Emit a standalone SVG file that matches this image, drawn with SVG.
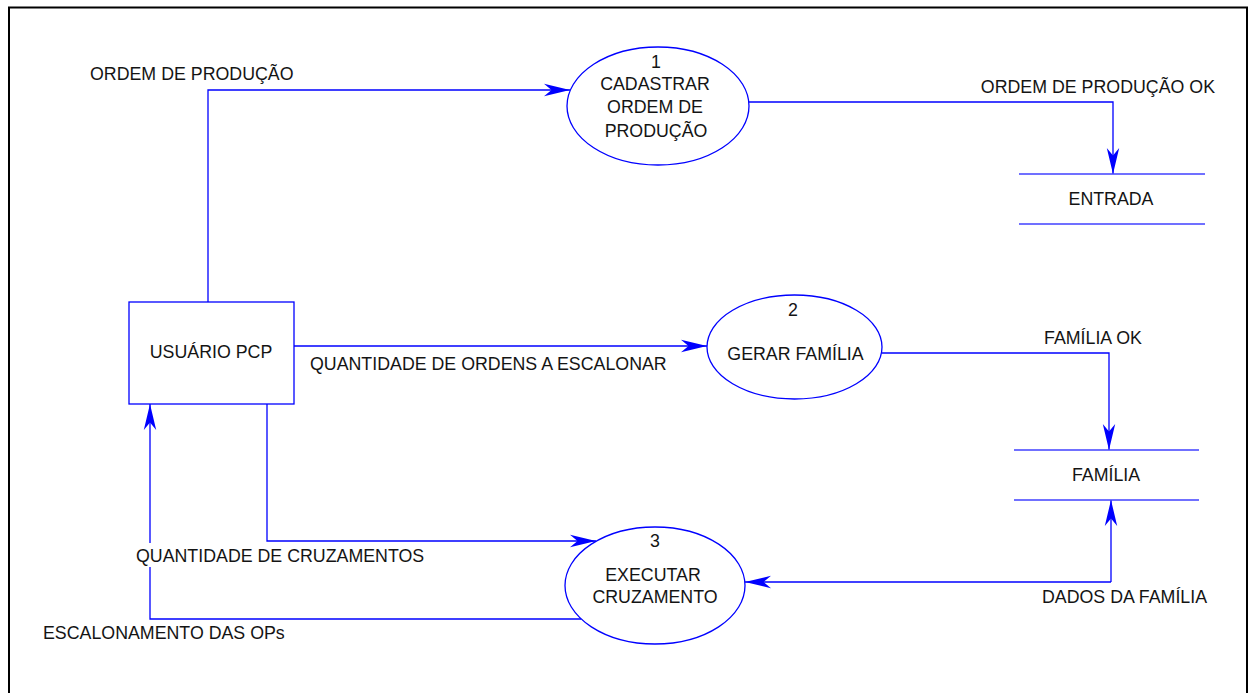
<svg xmlns="http://www.w3.org/2000/svg" width="1249" height="693" viewBox="0 0 1249 693">
  <style>
    text { font-family: "Liberation Sans", Arial, sans-serif; font-size: 17.8px; fill: #141414; }
    .c { text-anchor: middle; }
    .e { text-anchor: end; }
    .shape { fill: #ffffff; stroke: #0000ff; stroke-width: 1.3; }
    .store { stroke: #4040ff; stroke-width: 1.5; }
    .flow { fill: none; stroke: #0000ff; stroke-width: 1.3; marker-end: url(#arrow); }
  </style>
  <defs>
    <marker id="arrow" markerUnits="userSpaceOnUse" markerWidth="27" markerHeight="14" refX="26" refY="7" orient="auto" overflow="visible">
      <path d="M26,7 L0,0.8 L7.5,7 L0,13.2 Z" fill="#0000ff"/>
    </marker>
  </defs>

  <rect x="0" y="0" width="1249" height="693" fill="#ffffff"/>
  <!-- frame -->
  <rect x="9" y="7.5" width="1238" height="700" fill="none" stroke="#000000" stroke-width="2"/>

  <!-- data flows -->
  <g id="connectors">
    <polyline class="flow" points="208,302 208,90 570,90"/>
    <polyline class="flow" points="749,102 1113,102 1113,174"/>
    <polyline class="flow" points="294,346 707,346"/>
    <polyline class="flow" points="882,353 1109,353 1109,450"/>
    <polyline class="flow" points="1111,582 1111,500"/>
    <polyline class="flow" points="1111,582 745,582"/>
    <polyline class="flow" points="267,404 267,541 596,541"/>
    <polyline class="flow" points="581,619 150,619 150,404"/>
  </g>

  <!-- flow labels -->
  <g id="labels">
    <text x="90" y="80">ORDEM DE PRODUÇÃO</text>
    <text class="e" x="1215" y="93">ORDEM DE PRODUÇÃO OK</text>
    <text x="310" y="370">QUANTIDADE DE ORDENS A ESCALONAR</text>
    <text x="1044" y="344">FAMÍLIA OK</text>
    <text x="1042" y="603">DADOS DA FAMÍLIA</text>
    <rect x="134" y="543" width="294" height="24" fill="#ffffff"/>
    <text x="136" y="562">QUANTIDADE DE CRUZAMENTOS</text>
    <text x="43" y="639">ESCALONAMENTO DAS OPs</text>
  </g>

  <!-- external entity -->
  <g id="usuario-pcp">
    <rect class="shape" x="129" y="302" width="165" height="102"/>
    <text class="c" x="211" y="358">USUÁRIO PCP</text>
  </g>

  <!-- processes -->
  <g id="processo-1">
    <ellipse class="shape" cx="658" cy="106" rx="91" ry="59"/>
    <text class="c" x="656" y="68">1</text>
    <text class="c" x="655" y="89.5">CADASTRAR</text>
    <text class="c" x="655" y="113">ORDEM DE</text>
    <text class="c" x="656" y="137">PRODUÇÃO</text>
  </g>

  <g id="processo-2">
    <ellipse class="shape" cx="794.5" cy="347" rx="87.5" ry="52"/>
    <text class="c" x="793" y="316">2</text>
    <text class="c" x="795.5" y="360">GERAR FAMÍLIA</text>
  </g>

  <g id="processo-3">
    <ellipse class="shape" cx="655" cy="585.5" rx="90" ry="58.5"/>
    <text class="c" x="655" y="547">3</text>
    <text class="c" x="653" y="581">EXECUTAR</text>
    <text class="c" x="655" y="603">CRUZAMENTO</text>
  </g>

  <!-- data stores -->
  <g id="deposito-entrada">
    <line class="store" x1="1019" y1="174" x2="1205" y2="174"/>
    <line class="store" x1="1019" y1="224" x2="1205" y2="224"/>
    <text class="c" x="1111" y="205">ENTRADA</text>
  </g>

  <g id="deposito-familia">
    <line class="store" x1="1014" y1="450" x2="1199" y2="450"/>
    <line class="store" x1="1014" y1="500" x2="1199" y2="500"/>
    <text class="c" x="1106" y="481">FAMÍLIA</text>
  </g>
</svg>
